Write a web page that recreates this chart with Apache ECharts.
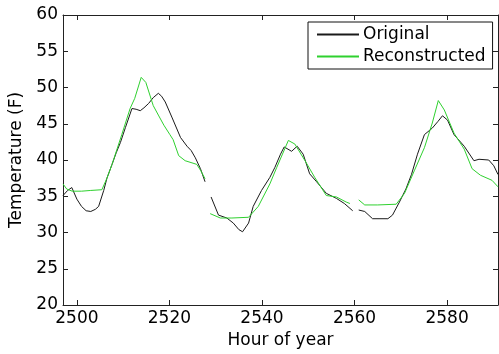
<!DOCTYPE html>
<html>
<head>
<meta charset="utf-8">
<script src="https://cdn.jsdelivr.net/npm/echarts@6/dist/echarts.min.js"></script>
<style>
  html, body { margin: 0; padding: 0; background: #fff; }
  #chart { width: 499px; height: 354px; }
</style>
</head>
<body>
<div id="chart"></div>
<script>
// Original (black) samples, '-' marks a break in the line
const origHours = [2497, 2498, 2498.9, 2500, 2501, 2502, 2503, 2504, 2504.7, 2505.8, 2506.5, 2507.6, 2508.5, 2509.4, 2510.5, 2511.9, 2512.8, 2513.7, 2514.5, 2515.5, 2516.5, 2517.6, 2518.3, 2519.1, 2520.6, 2522.4, 2523.8, 2524.7, 2525.6, 2526.7, 2527.7, 2528.3, 2529, 2530.6, 2532.4, 2533.8, 2535, 2535.8, 2537.1, 2538.1, 2539.9, 2541.7, 2542.8, 2544, 2544.8, 2546.4, 2547.6, 2548.9, 2550.3, 2551.8, 2553.9, 2556.1, 2557.8, 2559.6, 2560.2, 2560.9, 2562.2, 2563.9, 2565.5, 2567.2, 2568.2, 2569.7, 2571.1, 2572.3, 2573.6, 2575.1, 2576.8, 2578, 2579, 2580.1, 2581.5, 2583.7, 2585.8, 2586.9, 2589, 2590.1, 2591];
const origTemps = [35.1, 35.8, 36.2, 34.6, 33.6, 33.0, 32.9, 33.2, 33.6, 35.8, 37.5, 39.4, 41.0, 42.4, 44.5, 47.1, 47.0, 46.8, 47.2, 47.8, 48.6, 49.2, 48.8, 48.0, 45.8, 43.1, 41.9, 41.3, 40.3, 38.8, 37.0, '-', 34.9, 32.4, 32.0, 31.3, 30.4, 30.1, 31.3, 33.6, 35.8, 37.6, 39.0, 40.8, 41.8, 41.2, 41.9, 40.8, 38.1, 37.0, 35.4, 34.7, 34.0, 33.0, '-', 33.1, 32.9, 31.9, 31.9, 31.9, 32.4, 34.2, 36.0, 38.0, 40.8, 43.5, 44.4, 45.3, 46.1, 45.5, 43.5, 41.9, 39.9, 40.1, 40.0, 39.2, 38.0];

// Reconstructed (green) samples
const reconHours = [2497, 2497.8, 2499, 2501, 2503, 2505.4, 2506.5, 2507.6, 2509.7, 2511.5, 2512.5, 2513.9, 2514.9, 2516.5, 2517.6, 2518.8, 2520.1, 2520.8, 2522, 2523.4, 2525.9, 2526.8, 2527.7, 2528.3, 2528.8, 2531, 2533.5, 2537.1, 2539.2, 2541.7, 2543.2, 2545.7, 2547.1, 2549.3, 2551.4, 2553.9, 2556.1, 2558.2, 2559, 2559.9, 2560.9, 2562.2, 2565, 2569, 2570.8, 2572.9, 2575.1, 2576.8, 2578.1, 2579.4, 2581.5, 2583.7, 2585.4, 2587.2, 2589.7, 2591];
const reconTemps = [36.7, 36.0, 35.7, 35.7, 35.8, 35.9, 37.5, 39.4, 43.5, 47.1, 48.5, 51.4, 50.7, 47.5, 46.2, 44.8, 43.5, 42.8, 40.6, 39.9, 39.4, 38.5, 37.4, '-', 32.6, 32.0, 32.0, 32.1, 33.6, 36.7, 39.0, 42.7, 42.2, 39.9, 37.6, 35.1, 34.9, 34.2, 34.0, '-', 34.5, 33.8, 33.8, 33.9, 35.4, 38.5, 41.7, 45.1, 48.2, 46.9, 43.7, 41.5, 38.8, 37.9, 37.2, 36.3];

const xTicks = [2500, 2520, 2540, 2560, 2580];

const chart = echarts.init(document.getElementById('chart'));

const pairs = (xs, ys) => xs.map((x, i) => [x, ys[i]]);
const font = 'DejaVu Sans';

const boxAxis = {
  axisLine: { show: true, lineStyle: { color: '#222', width: 1 } },
  axisTick: { show: true, inside: true, length: 5, lineStyle: { color: '#222' } },
  splitLine: { show: false },
};

const option = {
  animation: false,
  backgroundColor: '#fff',
  textStyle: { fontFamily: font },
  grid: { left: 62, right: 1, top: 15, bottom: 44 },
  legend: {
    orient: 'vertical',
    left: 308,
    top: 22,
    padding: [4, 7, 4, 8],
    itemGap: 5,
    itemWidth: 42,
    itemHeight: 17,
    itemStyle: { opacity: 0 },
    borderColor: '#111',
    borderWidth: 1,
    borderRadius: 0,
    backgroundColor: '#fff',
    textStyle: { color: '#000', fontSize: 17, fontFamily: font, padding: [0, 0, 0, -1] },
    data: ['Original', 'Reconstructed'],
  },
  xAxis: [
    Object.assign({}, boxAxis, {
      type: 'value',
      min: 2497,
      max: 2591,
      name: 'Hour of year',
      nameLocation: 'middle',
      nameGap: 27,
      nameTextStyle: { color: '#000', fontSize: 17, fontFamily: font },
      axisTick: { show: true, inside: true, length: 5, lineStyle: { color: '#222' }, customValues: xTicks },
      axisLabel: {
        color: '#000', fontSize: 17, fontFamily: font, margin: 5,
        customValues: xTicks, formatter: (v) => String(v),
      },
    }),
    Object.assign({}, boxAxis, {
      type: 'value',
      position: 'top',
      min: 2497,
      max: 2591,
      axisTick: { show: true, inside: true, length: 5, lineStyle: { color: '#222' }, customValues: xTicks },
      axisLabel: { show: false, customValues: xTicks },
    }),
  ],
  yAxis: [
    Object.assign({}, boxAxis, {
      type: 'value',
      min: 20,
      max: 60,
      interval: 5,
      name: 'Temperature (F)',
      nameLocation: 'middle',
      nameGap: 38,
      nameTextStyle: { color: '#000', fontSize: 17, fontFamily: font },
      axisLabel: { color: '#000', fontSize: 17, fontFamily: font, margin: 5 },
    }),
    Object.assign({}, boxAxis, {
      type: 'value',
      position: 'right',
      min: 20,
      max: 60,
      interval: 5,
      axisLabel: { show: false },
    }),
  ],
  series: [
    {
      name: 'Original',
      type: 'line',
      symbol: 'none',
      connectNulls: false,
      lineStyle: { color: '#1a1a1a', width: 1 },
      itemStyle: { color: '#1a1a1a' },
      data: pairs(origHours, origTemps),
    },
    {
      name: 'Reconstructed',
      type: 'line',
      symbol: 'none',
      connectNulls: false,
      lineStyle: { color: '#2fd12f', width: 1 },
      itemStyle: { color: '#2fd12f' },
      data: pairs(reconHours, reconTemps),
    },
  ],
};

chart.setOption(option);
</script>
</body>
</html>
